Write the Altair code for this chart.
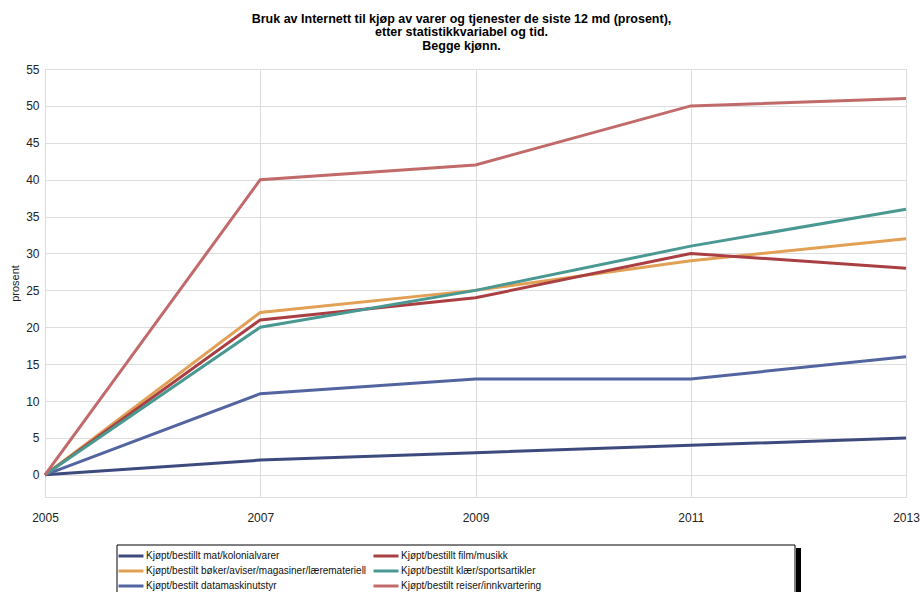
import altair as alt
import pandas as pd

# Survey years
years = [2005, 2007, 2009, 2011, 2013]

# Share (%) buying goods/services online in the last 12 months, per category
mat = [0, 2, 3, 4, 5]
film = [0, 21, 24, 30, 28]
boker = [0, 22, 25, 29, 32]
klaer = [0, 20, 25, 31, 36]
data = [0, 11, 13, 13, 16]
reiser = [0, 40, 42, 50, 51]

# Order chosen so the two-column legend (filled column by column) reads row-wise
series_names = [
    "Kjøpt/bestillt mat/kolonialvarer",
    "Kjøpt/bestilt bøker/aviser/magasiner/læremateriell",
    "Kjøpt/bestilt datamaskinutstyr",
    "Kjøpt/bestillt film/musikk",
    "Kjøpt/bestilt klær/sportsartikler",
    "Kjøpt/bestilt reiser/innkvartering",
]
series_values = [mat, boker, data, film, klaer, reiser]
series_colors = ["#3d4a7e", "#e2a055", "#5364a0", "#a93f42", "#4a9892", "#c26a6a"]

rows = []
for name, vals in zip(series_names, series_values):
    for yr, v in zip(years, vals):
        rows.append({"tid": yr, "prosent": v, "serie": name})
df = pd.DataFrame(rows)

FONT = "Liberation Sans"

lines = alt.Chart(df).mark_line(strokeWidth=3).encode(
    x=alt.X(
        "tid:Q",
        scale=alt.Scale(domain=[2005, 2013], nice=False, zero=False),
        axis=alt.Axis(
            values=[2005, 2007, 2009, 2011, 2013],
            format="d",
            title=None,
            grid=True,
            gridColor="#dddddd",
            domain=False,
            ticks=False,
            labelPadding=15,
            labelFontSize=12,
            labelColor="#222222",
            labelFont=FONT,
            labelFlush=False,
        ),
    ),
    y=alt.Y(
        "prosent:Q",
        scale=alt.Scale(domain=[-3, 55], nice=False),
        axis=alt.Axis(
            values=list(range(0, 56, 5)),
            title="prosent",
            titleFontWeight="normal",
            titleFontSize=11,
            titleFont=FONT,
            titleColor="#222222",
            titlePadding=5,
            grid=True,
            gridColor="#dddddd",
            domain=False,
            ticks=False,
            labelPadding=6,
            labelFontSize=12,
            labelColor="#222222",
            labelFont=FONT,
        ),
    ),
    color=alt.Color(
        "serie:N",
        sort=series_names,
        scale=alt.Scale(domain=series_names, range=series_colors),
        legend=alt.Legend(
            title=None,
            orient="none",
            legendX=72,
            legendY=479,
            columns=2,
            columnPadding=0,
            direction="vertical",
            symbolType="M-2,0H2",
            symbolSize=156,
            symbolOffset=6,
            symbolStrokeWidth=3,
            labelFont=FONT,
            labelFontSize=10,
            labelColor="#111111",
            labelLimit=400,
            labelOffset=7,
            rowPadding=1,
        ),
    ),
)

# Legend frame with drop shadow on the right edge
frame = alt.Chart(pd.DataFrame({"k": [0]})).mark_rect(
    fill="white", stroke="black", strokeWidth=1, clip=False
).encode(
    x=alt.value(72), x2=alt.value(750), y=alt.value(476), y2=alt.value(530)
)
shadow = alt.Chart(pd.DataFrame({"k": [0]})).mark_rect(
    fill="black", clip=False
).encode(
    x=alt.value(751), x2=alt.value(756), y=alt.value(479), y2=alt.value(530)
)

chart = (
    alt.layer(frame, shadow, lines)
    .properties(
        width=861,
        height=428,
        autosize=alt.AutoSizeParams(type="none"),
        padding={"left": 45, "top": 69, "right": 15, "bottom": 95},
        title=alt.TitleParams(
            text=[
                "Bruk av Internett til kjøp av varer og tjenester de siste 12 md (prosent),",
                "etter statistikkvariabel og tid.",
                "Begge kjønn.",
            ],
            font=FONT,
            fontSize=12.5,
            fontWeight="bold",
            color="#000000",
            anchor="middle",
            lineHeight=13.5,
            offset=11,
            dx=-14,
        ),
    )
    .configure_view(stroke="#dddddd")
    .configure(background="white")
)

chart.save("out.html", embed_options={"renderer": "svg", "actions": False})
